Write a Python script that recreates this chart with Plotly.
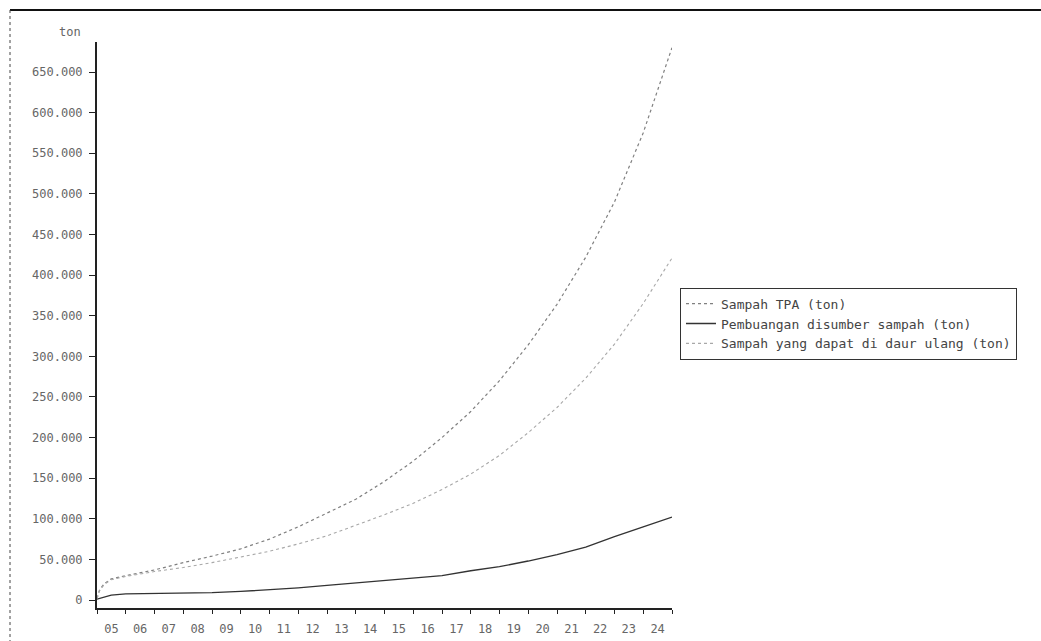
import plotly.graph_objects as go

# ---- data ----
dates = ["2005-01-01", "2005-02-01", "2005-04-01", "2005-07-01",
         "2006-01-01", "2007-01-01", "2008-01-01", "2009-01-01", "2010-01-01",
         "2011-01-01", "2012-01-01", "2013-01-01", "2014-01-01", "2015-01-01",
         "2016-01-01", "2017-01-01", "2018-01-01", "2019-01-01", "2020-01-01",
         "2021-01-01", "2022-01-01", "2023-01-01", "2024-01-01", "2025-01-01"]

sampah_tpa = [2000, 12000, 20000, 26000,
              30000, 37000, 46000, 54000, 63000,
              75000, 90000, 107000, 124000, 146000,
              171000, 200000, 232000, 270000, 314000,
              364000, 422000, 490000, 575000, 680000]

daur_ulang = [2000, 11000, 19000, 25000,
              29000, 35000, 40000, 46000, 53000,
              60000, 69000, 79000, 92000, 105000,
              119000, 136000, 155000, 178000, 206000,
              237000, 273000, 315000, 365000, 421000]

pembuangan_sumber = [1000, 2000, 4000, 6000,
                     7500, 8000, 8500, 9000, 10500,
                     12500, 15000, 18000, 21000, 24000,
                     26500, 30000, 36000, 41000, 48000,
                     56000, 65000, 78000, 90000, 102000]

names = ["Sampah TPA (ton)",
         "Pembuangan disumber sampah (ton)",
         "Sampah yang dapat di daur ulang (ton)"]

y_ticks = list(range(0, 650001, 50000))

FONT = "DejaVu Sans Mono"

fig = go.Figure()
fig.add_trace(go.Scatter(x=dates, y=sampah_tpa, name=names[0], mode="lines",
                         line=dict(color="#808080", width=1.2, dash="dot")))
fig.add_trace(go.Scatter(x=dates, y=pembuangan_sumber, name=names[1], mode="lines",
                         line=dict(color="#333333", width=1.3)))
fig.add_trace(go.Scatter(x=dates, y=daur_ulang, name=names[2], mode="lines",
                         line=dict(color="#a8a8a8", width=1.1, dash="dot")))

fig.update_layout(
    width=1041, height=641,
    margin=dict(l=97, r=369, t=42, b=33, autoexpand=False),
    paper_bgcolor="white", plot_bgcolor="white",
    separators=",.",
    font=dict(family=FONT, size=12, color="#555555"),
    showlegend=True,
    legend=dict(x=1.0139, xanchor="left", y=0.566, yanchor="top",
                bgcolor="white", bordercolor="#333333", borderwidth=1,
                font=dict(family=FONT, size=13, color="#444444"),
                itemwidth=30, tracegroupgap=0),
    xaxis=dict(type="date", range=["2005-01-01", "2025-01-01"],
               tick0="2005-01-01", dtick="M12", tickformat="%y",
               ticklabelmode="period", ticks="outside", ticklen=4,
               ticklabelstandoff=5,
               tickcolor="#222222", showgrid=False, zeroline=False,
               showline=True, linecolor="#222222", linewidth=2,
               tickfont=dict(family=FONT, size=12, color="#666666")),
    yaxis=dict(range=[-9848, 686939], tickvals=y_ticks, tickformat=",.0f",
               ticks="outside", ticklen=6, tickcolor="#222222",
               ticklabelstandoff=4,
               showgrid=False, zeroline=False,
               showline=True, linecolor="#222222", linewidth=2,
               tickfont=dict(family=FONT, size=12, color="#666666")),
    annotations=[dict(text="ton", xref="paper", yref="paper", x=-0.047, y=1.0177,
                      showarrow=False, xanchor="center", yanchor="middle",
                      font=dict(family=FONT, size=12, color="#666666"))],
    shapes=[
        dict(type="line", xref="paper", yref="paper", x0=-0.1513, x1=1.6417,
             y0=1.0565, y1=1.0565, line=dict(color="#111111", width=2)),
        dict(type="line", xref="paper", yref="paper", x0=-0.1513, x1=-0.1513,
             y0=1.0565, y1=-0.0583, line=dict(color="#444444", width=1, dash="dot")),
    ],
)

fig.write_html("out.html")
